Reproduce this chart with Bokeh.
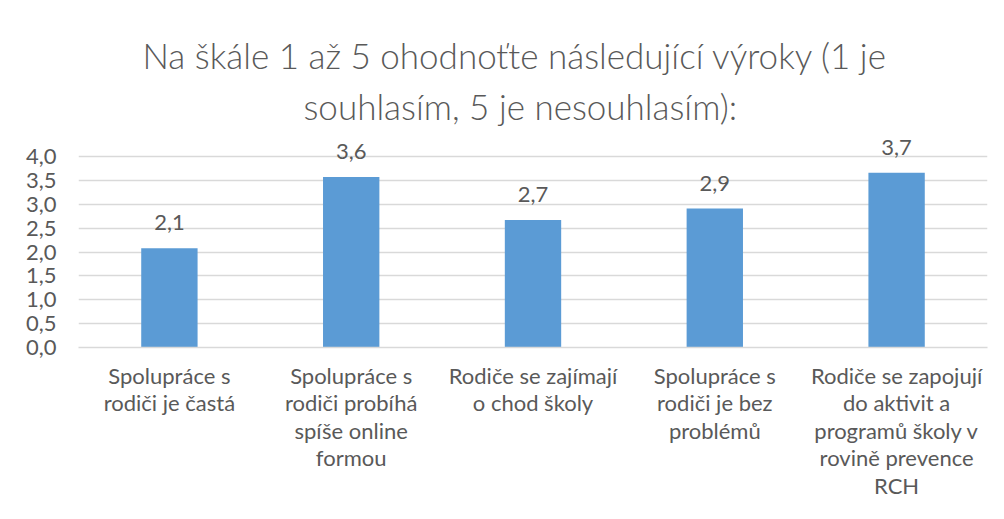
from bokeh.plotting import figure
from bokeh.models import (ColumnDataSource, FactorRange, Range1d, FixedTicker,
                          CustomJSTickFormatter, LabelSet, Title)
from bokeh.core.properties import value
from bokeh.embed import file_html
from bokeh.resources import INLINE

# ---- data ----
title_lines = ["Na škále 1 až 5 ohodnoťte následující výroky (1 je",
               "souhlasím, 5 je nesouhlasím):"]
categories = [
    "Spolupráce s\nrodiči je častá",
    "Spolupráce s\nrodiči probíhá\nspíše online\nformou",
    "Rodiče se zajímají\no chod školy",
    "Spolupráce s\nrodiči je bez\nproblémů",
    "Rodiče se zapojují\ndo aktivit a\nprogramů školy v\nrovině prevence\nRCH",
]
values = [2.08, 3.57, 2.67, 2.91, 3.66]
y_ticks = [0.0, 0.5, 1.0, 1.5, 2.0, 2.5, 3.0, 3.5, 4.0]

labels = [f"{v:.1f}".replace(".", ",") for v in values]

FONT = "Lato"
TITLE_FONT = "Lato Light, Lato"
TXT = "#595959"
GRID = "#d9d9d9"
BAR = "#5B9BD5"

src = ColumnDataSource(dict(cat=categories, val=values, lab=labels))

p = figure(width=988, height=503, x_range=FactorRange(*categories),
           y_range=Range1d(0, 4.4), output_backend="svg", toolbar_location=None,
           min_border_left=78, min_border_right=1, min_border_top=137,
           min_border_bottom=156)

p.vbar(x="cat", top="val", width=0.31, source=src, fill_color=BAR, line_color=None)

p.add_layout(LabelSet(x="cat", y="val", text="lab", source=src, text_align="center",
                      text_baseline="alphabetic", y_offset=18, text_font=value(FONT),
                      text_font_size="22px", text_color=TXT))

# titles (closest to plot first)
p.add_layout(Title(text=title_lines[1], align="left", text_font=TITLE_FONT,
                   text_font_size="35px", text_font_style="normal",
                   text_color=TXT, standoff=21, offset=225), "above")
p.add_layout(Title(text=title_lines[0], align="left", text_font=TITLE_FONT,
                   text_font_size="35px", text_font_style="normal",
                   text_color=TXT, standoff=-6, offset=64), "above")

p.outline_line_color = None
p.background_fill_color = "white"
p.border_fill_color = "white"

p.xgrid.grid_line_color = None
p.ygrid.grid_line_color = GRID
p.ygrid.grid_line_width = 1.5
p.ygrid.ticker = FixedTicker(ticks=y_ticks)

p.yaxis.ticker = FixedTicker(ticks=y_ticks)
p.yaxis.formatter = CustomJSTickFormatter(code="return tick.toFixed(1).replace('.', ',');")
p.yaxis.axis_line_color = None
p.yaxis.major_tick_line_color = None
p.yaxis.minor_tick_line_color = None
p.yaxis.major_label_standoff = 16
p.yaxis.major_label_text_font = FONT
p.yaxis.major_label_text_font_size = "22px"
p.yaxis.major_label_text_color = TXT

p.xaxis.axis_line_color = GRID
p.xaxis.axis_line_width = 1.5
p.xaxis.major_tick_line_color = None
p.xaxis.minor_tick_line_color = None
p.xaxis.major_label_standoff = 8
p.xaxis.major_label_text_font = FONT
p.xaxis.major_label_text_font_size = "22px"
p.xaxis.major_label_text_color = TXT
p.xaxis.major_label_text_line_height = 1.02
p.xaxis.major_label_orientation = "horizontal"

open("out.html", "w").write(file_html(p, INLINE))
